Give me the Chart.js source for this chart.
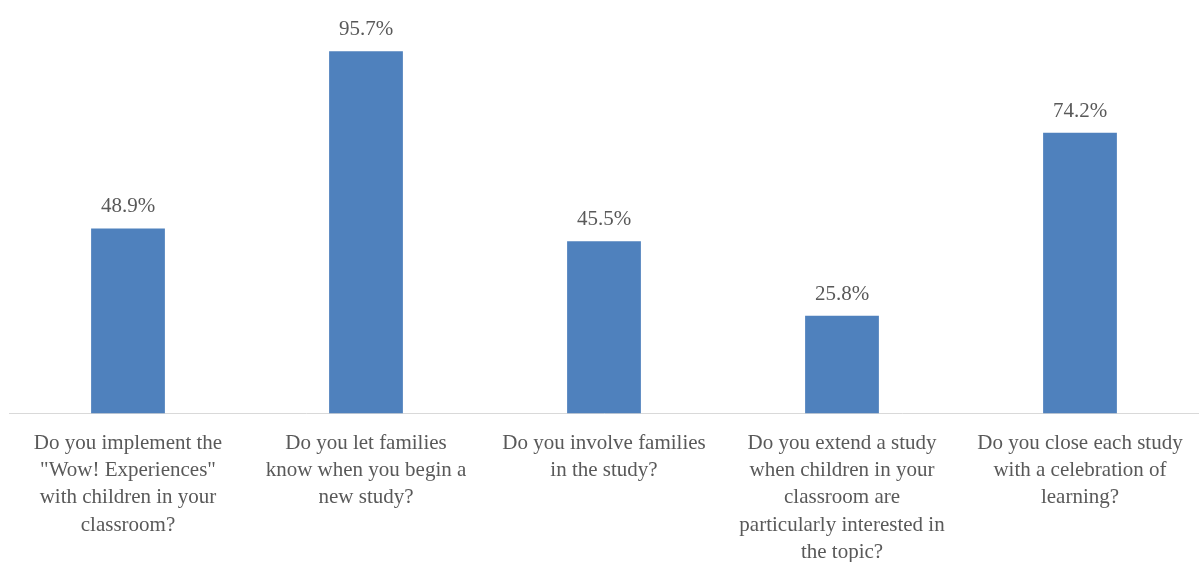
<!DOCTYPE html>
<html>
<head>
<meta charset="utf-8">
<script src="https://cdn.jsdelivr.net/npm/chart.js@4/dist/chart.umd.min.js"></script>
<style>
  html, body { margin: 0; padding: 0; background: #fff; overflow: hidden; }
  #wrap { width: 1199px; height: 562px; overflow: hidden; }
</style>
</head>
<body>
<div id="wrap"><canvas id="chart" width="1199" height="574"></canvas></div>
<script>
// Chart data
const categories = [
  ['Do you implement the', '"Wow! Experiences"', 'with children in your', 'classroom?'],
  ['Do you let families', 'know when you begin a', 'new study?'],
  ['Do you involve families', 'in the study?'],
  ['Do you extend a study', 'when children in your', 'classroom are', 'particularly interested in', 'the topic?'],
  ['Do you close each study', 'with a celebration of', 'learning?']
];
const percentages = [48.9, 95.7, 45.5, 25.8, 74.2];

const textColor = '#595959';
const fontFamily = '"Liberation Serif", "Times New Roman", serif';

// draw the value above each bar
const valueLabels = {
  id: 'valueLabels',
  afterDatasetsDraw(chart) {
    const ctx = chart.ctx;
    const meta = chart.getDatasetMeta(0);
    ctx.save();
    ctx.font = '21px ' + fontFamily;
    ctx.fillStyle = textColor;
    ctx.textAlign = 'center';
    ctx.textBaseline = 'alphabetic';
    meta.data.forEach((bar, i) => {
      ctx.fillText(percentages[i].toFixed(1) + '%', bar.x, bar.y - 16);
    });
    ctx.restore();
  }
};

new Chart(document.getElementById('chart'), {
  type: 'bar',
  data: {
    labels: categories,
    datasets: [{
      data: percentages,
      backgroundColor: '#4f81bd',
      categoryPercentage: 1,
      barPercentage: 0.31
    }]
  },
  options: {
    responsive: false,
    animation: false,
    layout: { padding: { left: 9, right: 0, top: 35, bottom: 0 } },
    plugins: { legend: { display: false }, tooltip: { enabled: false } },
    scales: {
      x: {
        grid: { display: false },
        border: { display: true, color: '#d9d9d9', width: 1 },
        ticks: {
          color: textColor,
          font: { family: fontFamily, size: 21, lineHeight: 1.3 },
          maxRotation: 0,
          autoSkip: false,
          padding: 8
        }
      },
      y: {
        display: false,
        min: 0,
        max: 100
      }
    }
  },
  plugins: [valueLabels]
});
</script>
</body>
</html>
